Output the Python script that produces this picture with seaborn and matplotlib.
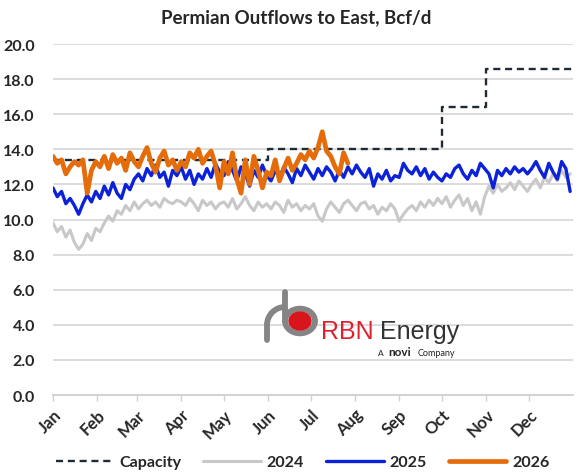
import numpy as np
import pandas as pd
import matplotlib.pyplot as plt
import matplotlib.patches as mpatches
import seaborn as sns

# --- DATA (Bcf/d, sampled every 3 days from Jan 1) ---
step_days = 3

flow_2024 = [
    9.8, 9.3, 9.6, 9.0, 9.4, 8.7, 8.3, 8.6, 9.2, 8.8, 9.5,
    9.3, 9.8, 10.2, 9.9, 10.5, 10.3, 10.8, 10.5, 11.0,
    10.6, 10.9, 11.1, 10.8, 11.0, 10.7, 11.2, 11.0, 10.9, 11.1,
    11.0, 10.8, 11.2, 10.9, 10.5, 11.1, 10.8, 11.0, 10.6, 10.9,
    11.0, 10.7, 11.2, 10.6, 10.9, 11.3, 10.8, 10.5, 11.0, 10.7, 10.9,
    10.6, 11.0, 10.8, 10.4, 11.1, 10.7, 10.9, 10.5, 10.8, 10.6,
    10.9, 10.2, 9.9, 10.6, 11.0, 10.7, 10.4, 10.9, 11.1, 10.8,
    10.5, 10.9, 11.0, 10.6, 10.8, 10.3, 10.7, 10.5, 10.9, 10.6,
    9.9, 10.3, 10.6, 10.8, 10.5, 11.0, 10.7, 11.1, 10.8, 11.2,
    10.9, 11.3, 10.7, 11.1, 11.4, 10.8, 11.2, 10.5, 11.0, 10.3, 11.3,
    11.9, 11.5, 12.0, 11.6, 11.8, 12.1, 11.7, 12.2, 11.9, 11.6,
    12.0, 12.3, 11.8, 12.4, 12.1, 12.6, 12.2, 12.8, 12.4, 12.6,
]

flow_2025 = [
    11.8, 11.3, 11.6, 10.9, 11.2, 10.8, 10.3, 10.9, 11.4, 11.0, 11.6,
    11.2, 11.9, 11.4, 12.1, 11.5, 11.2, 12.0, 11.7, 12.3,
    12.6, 12.2, 12.9, 12.5, 13.1, 12.4, 12.7, 11.9, 12.8, 12.5,
    13.0, 12.3, 12.8, 12.0, 12.6, 12.3, 12.9, 12.4, 13.2, 12.7,
    12.5, 13.3, 12.8, 12.2, 13.0, 12.6, 11.9, 12.8, 12.4, 13.1, 12.5,
    12.2, 12.8, 12.4, 13.0, 12.6, 12.1, 12.9, 12.5, 13.1, 12.7,
    12.3, 12.9, 12.5, 13.0, 12.7, 12.2, 12.8, 12.4, 13.0, 12.6,
    13.1, 12.7, 12.4, 12.9, 11.9, 12.6, 12.3, 12.8, 12.2, 12.5,
    12.4, 13.2, 12.8, 12.6, 13.0, 12.5, 12.9, 12.3, 12.7, 12.4,
    12.2, 12.6, 12.4, 12.9, 13.1, 12.6, 12.3, 12.8, 12.5, 13.2, 12.9,
    12.6, 11.8, 12.8, 12.5, 12.9, 12.6, 13.0, 12.7, 12.9, 12.6,
    12.9, 13.3, 12.8, 12.4, 13.2, 12.7, 12.3, 13.3, 12.9, 11.6,
]

flow_2026 = [
    13.6, 13.2, 13.4, 12.6, 13.0, 13.3, 13.1, 13.4, 11.5, 12.8, 13.3,
    13.0, 13.6, 12.9, 13.7, 13.2, 13.5, 12.8, 13.8, 13.3,
    13.0, 13.6, 14.1, 13.2, 12.7, 13.5, 13.9, 13.1, 13.4, 12.8,
    13.3, 13.0, 13.8, 13.5, 14.0, 13.2, 13.6, 13.9, 13.1, 11.8,
    13.3, 12.6, 13.8, 12.3, 11.5, 13.4, 12.0, 13.6, 12.8, 11.8, 12.7,
    12.5, 13.4, 12.2, 12.9, 13.5, 12.8, 13.2, 13.7, 13.4, 13.9,
    13.5, 14.1, 15.0, 13.9, 13.6, 13.0, 12.6, 13.8, 13.2,
]

# capacity steps: start day of each level
cap_days = [0, 151, 273, 304, 365]
cap_values = [13.4, 14.0, 16.4, 18.6, 18.6]

months = ["Jan", "Feb", "Mar", "Apr", "May", "Jun",
          "Jul", "Aug", "Sep", "Oct", "Nov", "Dec"]
month_start = [0, 31, 59, 90, 120, 151, 181, 212, 243, 273, 304, 334]

colors = {"Capacity": "#1f2a36", "2024": "#c8c8c8",
          "2025": "#0b22d8", "2026": "#e46c0a"}
widths = {"2024": 2.2, "2025": 2.4, "2026": 3.4}

frames = []
for name, vals in [("2024", flow_2024), ("2025", flow_2025), ("2026", flow_2026)]:
    frames.append(pd.DataFrame({"day": np.arange(len(vals)) * step_days,
                                "flow": vals, "series": name}))
cap_df = pd.DataFrame({"day": cap_days, "flow": cap_values})

# --- Plot ---
sns.set_theme(style="white")
plt.rcParams["font.family"] = ["Lato", "DejaVu Sans"]

W, H = 580, 477
fig = plt.figure(figsize=(W / 100, H / 100), dpi=100)
ax = fig.add_axes([53 / W, 1 - 396 / H, 520 / W, 351 / H])

sns.lineplot(data=cap_df, x="day", y="flow", ax=ax, color=colors["Capacity"],
             linestyle=(0, (3, 2)), linewidth=1.7, drawstyle="steps-post",
             label="Capacity")
for df in frames:
    name = df["series"].iloc[0]
    sns.lineplot(data=df, x="day", y="flow", ax=ax, color=colors[name],
                 linewidth=widths[name], label=name)

ax.set_xlim(0, 365)
ax.set_ylim(0, 20)
ax.set_yticks(np.arange(0, 21, 2))
ax.set_yticklabels([f"{v:.1f}" for v in np.arange(0, 21, 2)],
                   fontsize=11.5, fontweight="bold")
ax.set_xticks(month_start)
ax.set_xticklabels(months, rotation=45, ha="right", rotation_mode="anchor",
                   fontsize=12, fontweight="bold")
ax.tick_params(axis="x", length=4, width=1, color="#d0d0d0", pad=4, bottom=True)
ax.tick_params(axis="y", length=0, pad=13)
ax.yaxis.grid(True, color="#d9d9d9", linewidth=1.3)
ax.set_axisbelow(True)
for s in ["left", "right", "top"]:
    ax.spines[s].set_visible(False)
ax.spines["bottom"].set_color("#d0d0d0")
ax.spines["bottom"].set_linewidth(1.3)
ax.set_xlabel("")
ax.set_ylabel("")

fig.text(296 / W, 1 - 18 / H, "Permian Outflows to East, Bcf/d", fontsize=13.5,
         fontweight="bold", ha="center", va="center")

leg = ax.legend(loc="center", bbox_to_anchor=(0.48, -(463 - 396) / 351), ncol=4,
                frameon=False, handlelength=3.6, columnspacing=1.4,
                handletextpad=0.35, prop={"weight": "bold", "size": 11.5})

# --- Logo ---
gray = "#858585"
fig.patches.append(mpatches.Circle((300 / W, 1 - 322 / H), 15 / W,
                                   transform=fig.transFigure, fill=False,
                                   edgecolor=gray, linewidth=4.2, zorder=4))
fig.patches.append(mpatches.Circle((300 / W, 1 - 322 / H), 11 / W,
                                   transform=fig.transFigure, color="#d8141c",
                                   zorder=5))
fig.patches.append(mpatches.Arc((285 / W, 1 - 326 / H), 36 / W, 36 / H,
                                theta1=90, theta2=180, transform=fig.transFigure,
                                color=gray, linewidth=4.2, zorder=4))
fig.lines.append(plt.Line2D([267 / W, 267 / W], [1 - 326 / H, 1 - 341 / H],
                            transform=fig.transFigure, color=gray,
                            linewidth=4.2, zorder=4, solid_capstyle="round"))
fig.lines.append(plt.Line2D([285 / W, 285 / W], [1 - 293 / H, 1 - 322 / H],
                            transform=fig.transFigure, color=gray,
                            linewidth=4.2, zorder=4, solid_capstyle="round"))
fig.text(321 / W, 1 - 339 / H, "RBN", color="#e0202e", fontsize=18,
         family=["Liberation Sans", "DejaVu Sans"])
fig.text(380 / W, 1 - 339 / H, "Energy", color="#333333", fontsize=18,
         family=["Liberation Sans", "DejaVu Sans"])
fig.text(378 / W, 1 - 356 / H, "A", color="#222222", fontsize=6)
fig.text(388 / W, 1 - 356 / H, "novi", color="#222222", fontsize=8.5,
         fontweight="bold")
fig.text(418 / W, 1 - 356 / H, "Company", color="#222222", fontsize=6.5)

fig.savefig("out.png", dpi=100)
